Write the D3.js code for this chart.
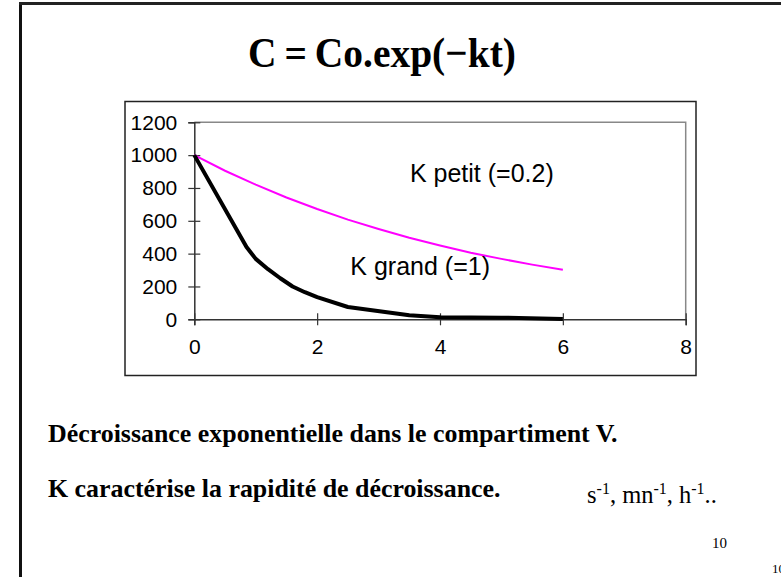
<!DOCTYPE html>
<html>
<head>
<meta charset="utf-8">
<script src="https://cdn.jsdelivr.net/npm/d3@7"></script>
<style>
  body { margin: 0; background: #fff; }
  svg { display: block; }
</style>
</head>
<body>
<div id="chart-area"></div>
<script>
// values
var tFast = [0, 0.85, 1, 1.2, 1.4, 1.6, 1.8, 2, 2.5, 3.5, 4, 5, 6];
var cFast = [1000, 440, 368, 305, 250, 200, 165, 135, 75, 25, 12, 10, 2];
var tSlow = [0, 0.5, 1, 1.5, 2, 2.5, 3, 3.5, 4, 4.5, 5, 5.5, 6];
var cSlow = [1000, 905, 820, 742, 672, 607, 550, 497, 450, 405, 368, 333, 302];
var xTicks = [0, 2, 4, 6, 8];
var yTicks = [0, 200, 400, 600, 800, 1000, 1200];
var labels = ["K petit (=0.2)", "K grand (=1)"];

var W = 781, H = 577;
var svg = d3.select("#chart-area")
	.append("svg")
		.attr("width", W)
		.attr("height", H);

// slide frame
svg.append("line").attr("x1", 20.5).attr("y1", 2).attr("x2", 20.5).attr("y2", H)
	.attr("stroke", "#111").attr("stroke-width", 3);
svg.append("line").attr("x1", 19).attr("y1", 3.5).attr("x2", W).attr("y2", 3.5)
	.attr("stroke", "#222").attr("stroke-width", 3);

// title
svg.append("text")
	.attr("x", 248)
	.attr("y", 67)
	.attr("textLength", 268)
	.attr("lengthAdjust", "spacingAndGlyphs")
	.style("font-family", "'Liberation Serif', 'Times New Roman', serif")
	.style("font-weight", "bold")
	.style("font-size", "42px")
	.text("C\u2009=\u2009Co.exp(\u2212kt)");

// chart box
svg.append("rect")
	.attr("x", 125).attr("y", 101.5)
	.attr("width", 571).attr("height", 274)
	.attr("fill", "none").attr("stroke", "#222").attr("stroke-width", 1.5);

var margin = {top: 122.3, left: 194.3};
var width = 491.4, height = 197;

var g = svg.append("g")
	.attr("transform", "translate(" + margin.left + ", " + margin.top + ")");

var x = d3.scaleLinear().domain([0, 8]).range([0, width]);
var y = d3.scaleLinear().domain([0, 1200]).range([height, 0]);

// plot frame top / right in grey
g.append("path")
	.attr("d", "M0,0H" + width + "V" + height)
	.attr("fill", "none").attr("stroke", "#888").attr("stroke-width", 1.5);

var bottomAxis = d3.axisBottom(x).tickValues(xTicks).tickSize(6).tickPadding(14)
	.tickFormat(d3.format("d"));
var xg = g.append("g")
	.attr("class", "bottom axis")
	.attr("transform", "translate(0, " + height + ")")
	.call(bottomAxis);
xg.selectAll(".tick line").attr("y1", -6);

var leftAxis = d3.axisLeft(y).tickValues(yTicks).tickSize(6).tickPadding(11)
	.tickFormat(d3.format("d"));
var yg = g.append("g")
	.attr("class", "left axis")
	.call(leftAxis);
yg.selectAll(".tick line").attr("x1", 6);

g.selectAll(".axis path.domain").attr("stroke", "#333").attr("stroke-width", 1.5);
g.selectAll(".axis .tick line").attr("stroke", "#333").attr("stroke-width", 1.2);
g.selectAll(".axis text")
	.style("font-family", "'Liberation Sans', Arial, sans-serif")
	.style("font-size", "21px")
	.attr("fill", "#000");

var line = d3.line()
	.x(function(d) { return x(d[0]); })
	.y(function(d) { return y(d[1]); });

g.append("path")
	.datum(tSlow.map(function(t, i) { return [t, cSlow[i]]; }))
	.attr("d", line)
	.attr("fill", "none")
	.attr("stroke", "#ff00ff")
	.attr("stroke-width", 2);

g.append("path")
	.datum(tFast.map(function(t, i) { return [t, cFast[i]]; }))
	.attr("d", line)
	.attr("fill", "none")
	.attr("stroke", "#000")
	.attr("stroke-width", 4)
	.attr("stroke-linejoin", "round");

var labelFont = "'Liberation Sans', Arial, sans-serif";
g.append("text")
	.attr("x", x(3.51))
	.attr("y", y(836))
	.style("font-family", labelFont)
	.style("font-size", "25px")
	.text(labels[0]);
g.append("text")
	.attr("x", x(2.54))
	.attr("y", y(270))
	.style("font-family", labelFont)
	.style("font-size", "25px")
	.text(labels[1]);

// slide text
var serif = "'Liberation Serif', 'Times New Roman', serif";
svg.append("text")
	.attr("x", 48).attr("y", 442)
	.style("font-family", serif).style("font-weight", "bold").style("font-size", "25.9px")
	.text("Décroissance exponentielle dans le compartiment V.");
svg.append("text")
	.attr("x", 48).attr("y", 497)
	.style("font-family", serif).style("font-weight", "bold").style("font-size", "25.9px")
	.text("K caractérise la rapidité de décroissance.");

var units = svg.append("text")
	.attr("x", 587).attr("y", 503)
	.style("font-family", serif).style("font-size", "24.5px");
[["s", "-1"], [", mn", "-1"], [", h", "-1"], ["..", null]].forEach(function(p) {
	units.append("tspan").attr("y", 503).text(p[0]);
	if (p[1]) {
		units.append("tspan").attr("y", 494).style("font-size", "16px").text(p[1]);
	}
});

svg.append("text")
	.attr("x", 712).attr("y", 548)
	.style("font-family", serif).style("font-size", "15px")
	.text("10");
svg.append("text")
	.attr("x", 772).attr("y", 573)
	.style("font-family", serif).style("font-size", "13px")
	.text("10");
</script>
</body>
</html>
